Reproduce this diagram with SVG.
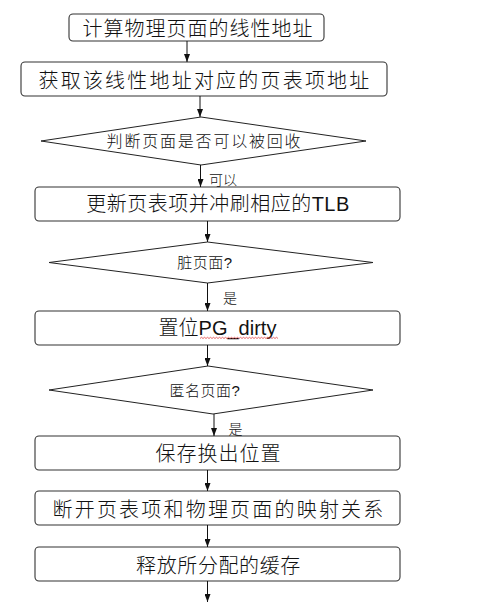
<svg xmlns="http://www.w3.org/2000/svg" width="500" height="610" viewBox="0 0 500 610">
<defs>
<style>
.box{fill:#fff;stroke:#333;stroke-width:1.1}
.dia{fill:#fff;stroke:#222;stroke-width:1}
.t{font-family:"Liberation Sans","Noto Sans CJK SC",sans-serif;font-weight:300;fill:#111;text-anchor:middle;dominant-baseline:central}
.b{font-size:20px}
.d{font-size:16px}
.l{font-size:14px}
.con line{stroke:#111;stroke-width:1;marker-end:url(#ah)}
</style>
<marker id="ah" viewBox="0 0 8 6" markerWidth="8" markerHeight="6" refX="8" refY="3" orient="auto" markerUnits="userSpaceOnUse">
<path d="M0,0 L8,3 L0,6 z" fill="#111"/>
</marker>
</defs>
<rect width="500" height="610" fill="#fff"/>
<g id="n1"><rect class="box" x="69" y="14" width="255" height="27" rx="4"/><text class="t b" x="198" y="28.5" letter-spacing="1">计算物理页面的线性地址</text></g>
<g id="n2"><rect class="box" x="21" y="62" width="366" height="34" rx="4"/><text class="t b" x="205" y="81" letter-spacing="2.2">获取该线性地址对应的页表项地址</text></g>
<g id="n3"><polygon class="dia" points="201,117 366,141 201,165 41,141"/><text class="t d" x="204.5" y="141" letter-spacing="1.8">判断页面是否可以被回收</text></g>
<g id="n4"><rect class="box" x="35" y="187" width="365" height="34" rx="4"/><text class="t b" x="218" y="204" letter-spacing="0.5">更新页表项并冲刷相应的TLB</text></g>
<g id="n5"><polygon class="dia" points="207.5,242 373,262.5 207.5,283 49,262.5"/><text class="t d" x="205" y="262" letter-spacing="0.5" style="font-size:15px">脏页面?</text></g>
<g id="n6"><rect class="box" x="35" y="311" width="365" height="34" rx="4"/><text class="t b" x="217.5" y="328">置位PG_dirty</text>
<path d="M200,338.5 l1.5,-1.2 l1.5,1.2 l1.5,-1.2 l1.5,1.2 l1.5,-1.2 l1.5,1.2 l1.5,-1.2 l1.5,1.2 l1.5,-1.2 l1.5,1.2 l1.5,-1.2 l1.5,1.2 l1.5,-1.2 l1.5,1.2 l1.5,-1.2 l1.5,1.2 l1.5,-1.2 l1.5,1.2 l1.5,-1.2 l1.5,1.2 l1.5,-1.2 l1.5,1.2 l1.5,-1.2 l1.5,1.2 l1.5,-1.2 l1.5,1.2 l1.5,-1.2 l1.5,1.2 l1.5,-1.2 l1.5,1.2 l1.5,-1.2 l1.5,1.2 l1.5,-1.2 l1.5,1.2 l1.5,-1.2 l1.5,1.2 l1.5,-1.2 l1.5,1.2 l1.5,-1.2 l1.5,1.2 l1.5,-1.2 l1.5,1.2 l1.5,-1.2 l1.5,1.2 l1.5,-1.2 l1.5,1.2 l1.5,-1.2 l1.5,1.2 l1.5,-1.2 l1.5,1.2 l1.5,-1.2 l1.5,1.2" fill="none" stroke="#e04040" stroke-width="0.8"/></g>
<g id="n7"><polygon class="dia" points="208,366 373,390 213,414 49,390"/><text class="t d" x="205" y="390" letter-spacing="0.5" style="font-size:15px">匿名页面?</text></g>
<g id="n8"><rect class="box" x="35" y="436" width="365" height="34" rx="4"/><text class="t b" x="218.5" y="454" letter-spacing="1">保存换出位置</text></g>
<g id="n9"><rect class="box" x="35" y="491" width="365" height="34" rx="4"/><text class="t b" x="219" y="509.5" letter-spacing="2.2">断开页表项和物理页面的映射关系</text></g>
<g id="n10"><rect class="box" x="35" y="547" width="365" height="34" rx="4"/><text class="t b" x="218.5" y="565.5" letter-spacing="0.6">释放所分配的缓存</text></g>
<g class="con" id="connectors">
<line x1="187" y1="41" x2="187" y2="62"/>
<line x1="200" y1="96" x2="200" y2="117"/>
<line x1="200.5" y1="165" x2="200.5" y2="187"/>
<line x1="207.5" y1="221" x2="207.5" y2="242"/>
<line x1="207.5" y1="283" x2="207.5" y2="311"/>
<line x1="207.5" y1="345" x2="207.5" y2="366"/>
<line x1="214" y1="414" x2="214" y2="436"/>
<line x1="207.5" y1="470" x2="207.5" y2="491"/>
<line x1="207.5" y1="525" x2="207.5" y2="547"/>
<line x1="207.5" y1="581" x2="207.5" y2="602"/>
<text class="t l" x="223" y="179.5">可以</text>
<text class="t l" x="230" y="298">是</text>
<text class="t l" x="235.5" y="429">是</text>
</g>
</svg>
